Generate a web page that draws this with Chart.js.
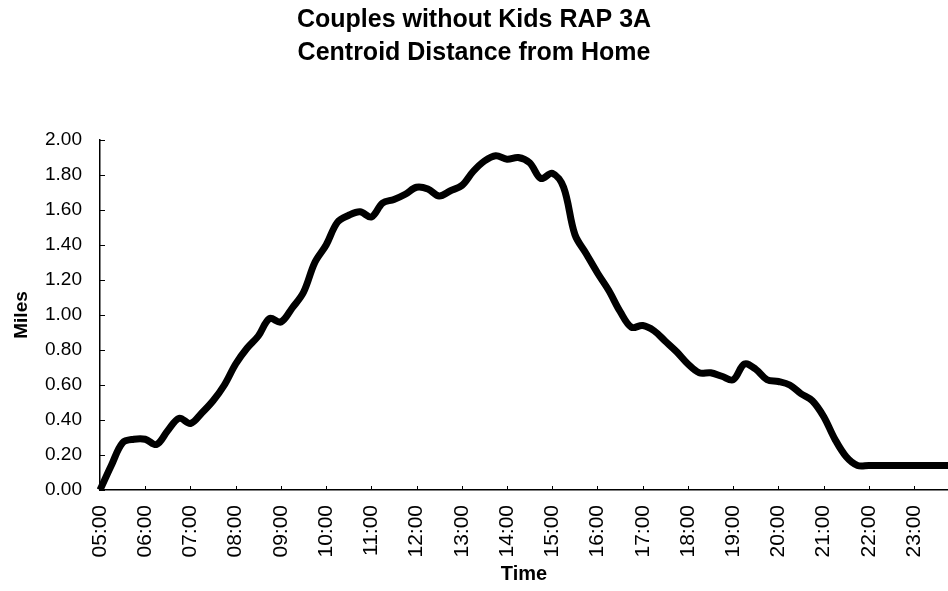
<!DOCTYPE html>
<html>
<head>
<meta charset="utf-8">
<script src="https://cdn.jsdelivr.net/npm/chart.js@4/dist/chart.umd.min.js"></script>
<style>
  body { margin: 0; background: #fff; }
  #wrap { width: 948px; height: 591px; }
</style>
</head>
<body>
<div id="wrap"><canvas id="chart"></canvas></div>
<script>
const hourLabels = ["05:00", "06:00", "07:00", "08:00", "09:00", "10:00", "11:00",
  "12:00", "13:00", "14:00", "15:00", "16:00", "17:00", "18:00", "19:00",
  "20:00", "21:00", "22:00", "23:00"];
const quarters = ["00", "15", "30", "45"];

// average centroid distance from home, every 15 minutes from 05:00
const miles = [
  0.00, 0.14, 0.27, 0.29, 0.29, 0.26, 0.34, 0.41,
  0.38, 0.44, 0.51, 0.60, 0.72, 0.81, 0.88, 0.98,
  0.96, 1.04, 1.13, 1.30, 1.40, 1.53, 1.57, 1.59,
  1.56, 1.64, 1.66, 1.69, 1.73, 1.72, 1.68, 1.71,
  1.74, 1.82, 1.88, 1.91, 1.89, 1.90, 1.87, 1.78,
  1.81, 1.73, 1.46, 1.35, 1.24, 1.14, 1.02, 0.93,
  0.94, 0.91, 0.85, 0.79, 0.72, 0.67, 0.67, 0.65,
  0.63, 0.72, 0.69, 0.63, 0.62, 0.60, 0.55, 0.51,
  0.42, 0.29, 0.19, 0.14, 0.14, 0.14, 0.14, 0.14,
  0.14, 0.14, 0.14, 0.14
];

const times = hourLabels.flatMap(h => quarters.map(q => h.slice(0, 3) + q));

const font = "'Liberation Sans', Arial, sans-serif";

// small tick marks drawn inside the plot, like the original
const innerTicks = {
  id: "innerTicks",
  afterDraw(chart) {
    const { ctx, scales: { x, y } } = chart;
    ctx.save();
    ctx.strokeStyle = "#000";
    ctx.lineWidth = 1;
    ctx.beginPath();
    y.ticks.forEach((t, i) => {
      const py = Math.round(y.getPixelForTick(i)) + 0.5;
      ctx.moveTo(y.right, py);
      ctx.lineTo(y.right + 5, py);
    });
    x.ticks.forEach((t, i) => {
      if (!times[t.value].endsWith(":00")) return;
      const px = Math.round(x.getPixelForTick(i)) + 0.5;
      ctx.moveTo(px, x.top);
      ctx.lineTo(px, x.top - 4);
    });
    ctx.stroke();
    ctx.restore();
  }
};

new Chart(document.getElementById("chart"), {
  type: "line",
  data: {
    labels: times,
    datasets: [{
      data: miles,
      borderColor: "#000",
      borderWidth: 7,
      pointRadius: 0,
      tension: 0.35,
      fill: false
    }]
  },
  options: {
    responsive: true,
    maintainAspectRatio: false,
    animation: false,
    layout: { padding: 0 },
    plugins: {
      legend: { display: false },
      tooltip: { enabled: false },
      title: {
        display: true,
        text: ["Couples without Kids RAP 3A", "Centroid Distance from Home"],
        color: "#000",
        font: { family: font, size: 25, weight: "bold", lineHeight: 1.32 },
        padding: { top: 4, bottom: 70 }
      }
    },
    scales: {
      x: {
        type: "category",
        offset: false,
        grid: { display: false },
        border: { display: true, color: "#000", width: 1.5 },
        ticks: {
          autoSkip: false,
          minRotation: 90,
          maxRotation: 90,
          padding: 7,
          color: "#000",
          font: { family: font, size: 21 },
          callback: function (v) {
            const t = times[v];
            return t.endsWith(":00") ? t : "";
          }
        },
        title: {
          display: true,
          text: "Time",
          color: "#000",
          font: { family: font, size: 20, weight: "bold" },
          padding: { top: 0, bottom: 5 }
        },
        afterFit(scale) {
          scale.height = 101;
          scale.paddingLeft = 0;
          scale.paddingRight = 0;
        }
      },
      y: {
        min: 0,
        max: 2,
        grid: { display: false },
        border: { display: true, color: "#000", width: 1.5 },
        ticks: {
          stepSize: 0.2,
          padding: 10,
          color: "#000",
          font: { family: font, size: 19 },
          callback: v => v.toFixed(2)
        },
        title: {
          display: true,
          text: "Miles",
          color: "#000",
          font: { family: font, size: 19, weight: "bold" },
          padding: { top: 10, bottom: 0 }
        },
        afterFit(scale) {
          scale.width = 100;
        }
      }
    }
  },
  plugins: [innerTicks]
});
</script>
</body>
</html>
